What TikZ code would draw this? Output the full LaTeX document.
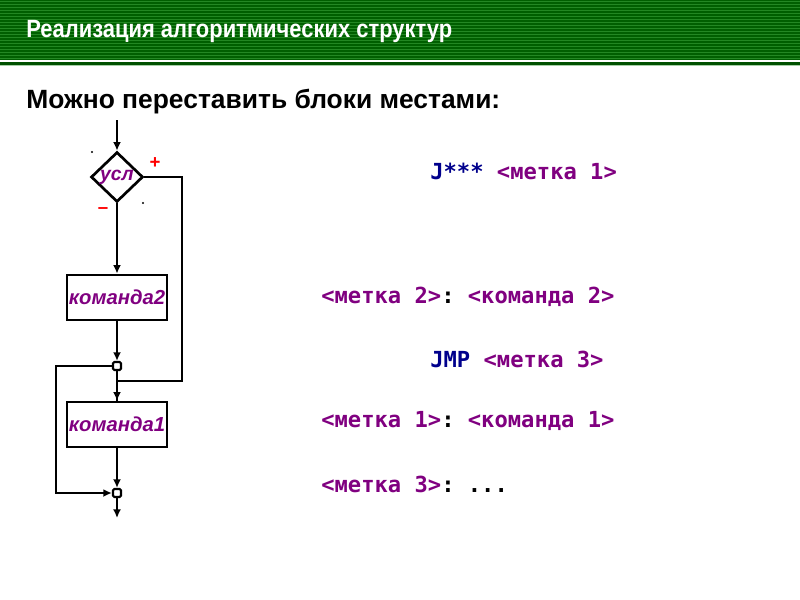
\documentclass[tikz,border=0pt]{standalone}
\usepackage{fontspec}
\setmainfont{Liberation Sans}
\setmonofont{DejaVu Sans Mono}
\newfontfamily\narrowfont[FakeStretch=0.88]{Liberation Sans}
\usepackage{tikz}
\usetikzlibrary{arrows.meta,shapes.geometric,positioning}
\definecolor{hdrgreen}{RGB}{0,95,0}
\definecolor{hdrstripe}{RGB}{35,135,35}
\definecolor{lblpurple}{RGB}{128,0,128}
\definecolor{asmnavy}{RGB}{0,0,140}
\tikzset{
 arr/.style={-{Latex[length=6.5pt,width=6pt]}},
 blockbox/.style={draw,line width=2pt,minimum width=75pt,minimum height=33.75pt,inner sep=0pt,
   font=\bfseries\itshape\fontsize{15.2}{15.2}\selectfont,text=lblpurple},
 joint/.style={draw,line width=1.6pt,fill=white,rounded corners=1pt,minimum size=6pt,inner sep=0pt},
 asm/.style={anchor=west,inner sep=0pt,font=\ttfamily\bfseries\fontsize{16.6}{16.6}\selectfont,text=lblpurple}
}
\begin{document}
\begin{tikzpicture}[x=0.75pt,y=-0.75pt,line width=2pt]
 \useasboundingbox (0,0) rectangle (800,600);
 % header
 \fill[hdrgreen] (0,0) rectangle (800,60);
 \foreach \y in {1.5,4.5,...,58.5} \draw[hdrstripe,line width=0.8pt] (0,\y) -- (800,\y);
 \fill[white] (0,60) rectangle (800,62);
 \fill[hdrgreen!85!black] (0,62) rectangle (800,65);
 \fill[hdrstripe!40] (0,65) rectangle (800,66);
 \node[anchor=west,inner sep=0pt,text=white,font=\narrowfont\bfseries\fontsize{18.7}{18.7}\selectfont] (title) at (25,32) {Реализация алгоритмических структур};
 \node[anchor=west,inner sep=0pt,font=\bfseries\fontsize{19.8}{19.8}\selectfont] (subtitle) at (25,102) {Можно переставить блоки местами:};

 % flowchart
 \coordinate (entry) at (117,120);
 \node[diamond,draw,line width=2pt,minimum width=39pt,minimum height=37.5pt,inner sep=0pt,aspect=1.04,
   text=lblpurple,font=\bfseries\itshape\fontsize{14.5}{14.5}\selectfont] (cond) at (117,177) {усл};
 \node[blockbox] (cmdtwo) at (117,297.5) {команда2};
 \node[joint] (joina) at (117,366) {};
 \node[blockbox] (cmdone) at (117,424.5) {команда1};
 \node[joint] (joinb) at (117,493) {};
 \coordinate (turn) at (182,381);
 \coordinate (lft) at (56,430);
 \coordinate (exit) at (117,518);
 \node[text=red,font=\bfseries\fontsize{14}{14}\selectfont] (plus) at (155,163) {+};
 \node[text=red,font=\bfseries\fontsize{14}{14}\selectfont] (minus) at (103,211) {--};
 \fill (92,152) circle (0.9pt) (143,203) circle (0.9pt);

 \draw[arr] (entry) -- (cond.north);
 \draw[arr] (cond.south) -- (cmdtwo.north);
 \draw[arr] (cmdtwo.south) -- (joina.north);
 \draw (joina.south) -- (cmdone.north);
 \draw[arr] (cond.east) -| (turn) -| (cmdone.north);
 \draw[arr] (joina.west) -| (lft) |- (joinb.west);
 \draw[arr] (cmdone.south) -- (joinb.north);
 \draw[arr] (joinb.south) -- (exit);

 % assembler
 \node[asm] (jstar) at (429,171) {\textcolor{asmnavy}{J***} <метка 1>};
 \node[asm] (lbltwo) at (320,297) {<метка 2>\textcolor{black}{:} <команда 2>};
 \node[asm] (jmp) at (429,359) {\textcolor{asmnavy}{JMP} <метка 3>};
 \node[asm] (lblone) at (320,421) {<метка 1>\textcolor{black}{:} <команда 1>};
 \node[asm] (lblthree) at (320,484) {<метка 3>\textcolor{black}{: ...}};
\end{tikzpicture}
\end{document}
